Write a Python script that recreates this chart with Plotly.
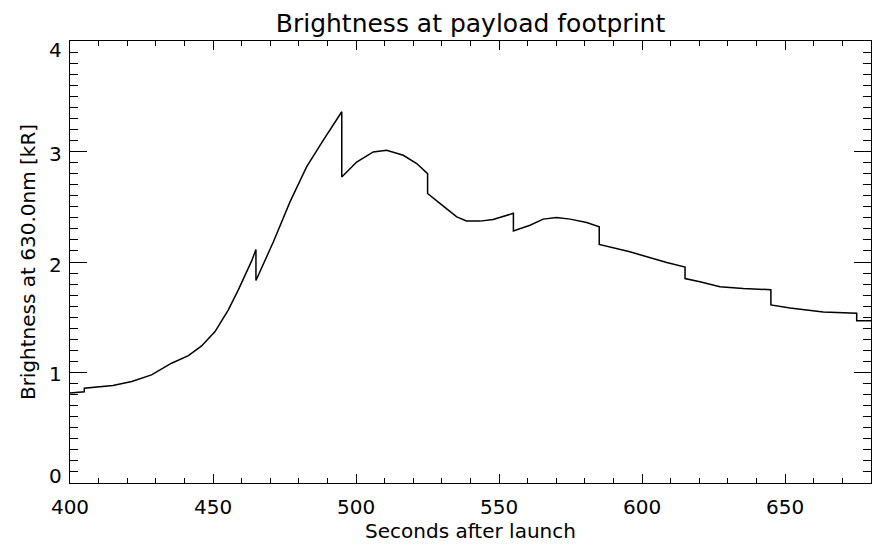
import plotly.graph_objects as go

# Seconds after launch (repeated times mark the vertical steps every 30 s)
time_s = [400, 405, 405, 410, 415, 421.6, 428.5, 435.5, 441.4, 446, 450.7, 455.3,
          458.8, 463.5, 465, 465, 471.1, 476.9, 482.7, 488.5, 495, 495, 500.2, 506,
          510.7, 516.5, 521.2, 525, 525, 529.3, 535.2, 538.6, 543.3, 547.9, 555, 555,
          560.8, 565.4, 570.1, 574.8, 580.6, 585, 585, 595.7, 602.7, 608.6, 615, 615,
          620.2, 627.2, 635.3, 645, 645, 651.7, 663.3, 675, 675, 680]

# Brightness at 630.0 nm [kR]
brightness_kR = [0.815, 0.825, 0.858, 0.873, 0.882, 0.918, 0.978, 1.084, 1.153, 1.24, 1.37, 1.565,
                 1.746, 2.01, 2.114, 1.832, 2.183, 2.544, 2.86, 3.10, 3.36, 2.77, 2.905, 2.996,
                 3.011, 2.966, 2.891, 2.80, 2.62, 2.53, 2.408, 2.372, 2.37, 2.385, 2.44, 2.282,
                 2.333, 2.388, 2.403, 2.388, 2.357, 2.318, 2.159, 2.092, 2.038, 1.996, 1.955, 1.85,
                 1.821, 1.776, 1.761, 1.749, 1.611, 1.583, 1.548, 1.536, 1.468, 1.468]

x_tick_vals = [400, 450, 500, 550, 600, 650]
x_tick_text = ["400", "450", "500", "550", "600", "650"]
y_tick_vals = [0, 1, 2, 3, 4]
y_tick_text = ["0", "1", "2", "3", "4"]

FONT = "DejaVu Sans"
# IDL-style vertical nudges of the y tick labels (px, positive = up)
Y_LABEL_NUDGE = [7, -1, -3, -2, -9]

fig = go.Figure(
    go.Scatter(x=time_s, y=brightness_kR, mode="lines",
               line=dict(color="black", width=1.5), hoverinfo="skip")
)

# The page body adds an 8 px offset, so the figure is 8 px smaller each way.
fig.update_layout(
    width=876, height=546,
    margin=dict(l=62, r=13, t=33, b=71, autoexpand=False),
    paper_bgcolor="white", plot_bgcolor="white",
    showlegend=False,
    font=dict(family=FONT, color="black", size=20),
    title=dict(text="Brightness at payload footprint", x=0.5, xref="paper",
               xanchor="center", y=0.9716, yref="container", yanchor="middle",
               automargin=False,
               font=dict(family=FONT, size=25, color="black")),
)

fig.update_xaxes(
    range=[400, 680], tickmode="array", tickvals=x_tick_vals, ticktext=x_tick_text,
    ticks="inside", ticklen=9, tickwidth=1, tickcolor="black",
    showline=True, linecolor="black", linewidth=1, mirror="allticks",
    showgrid=False, zeroline=False, automargin=False, ticklabelstandoff=6,
    minor=dict(ticks="inside", dtick=10, tick0=400, ticklen=5, tickwidth=1,
               tickcolor="black", showgrid=False),
    tickfont=dict(family=FONT, size=20, color="black"),
    title=dict(text="Seconds after launch", standoff=0,
               font=dict(family=FONT, size=20, color="black")),
)

fig.update_yaxes(
    range=[0, 4], tickmode="array", tickvals=y_tick_vals,
    showticklabels=False,
    ticks="inside", ticklen=17, tickwidth=1, tickcolor="black",
    showline=True, linecolor="black", linewidth=1, mirror="allticks",
    showgrid=False, zeroline=False, automargin=False,
    minor=dict(ticks="inside", dtick=0.1, tick0=0, ticklen=8, tickwidth=1,
               tickcolor="black", showgrid=False),
    title=dict(text="Brightness at 630.0nm [kR]", standoff=28,
               font=dict(family=FONT, size=20, color="black")),
)

# y tick labels as text placed on the y scale
for val, txt, nudge in zip(y_tick_vals, y_tick_text, Y_LABEL_NUDGE):
    fig.add_annotation(x=0, xref="paper", xanchor="right", xshift=-6,
                       y=val, yref="y", yanchor="middle", yshift=nudge,
                       text=txt, showarrow=False,
                       font=dict(family=FONT, size=20, color="black"))

fig.write_html("out.html")
